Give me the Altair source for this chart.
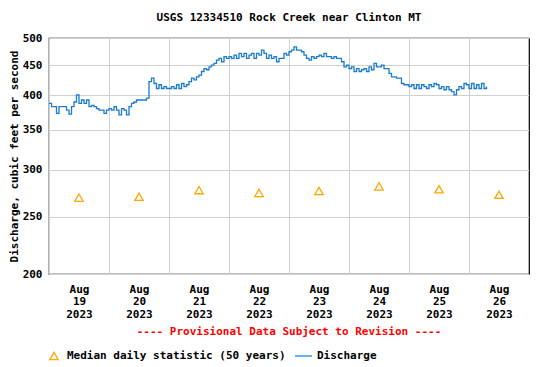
import altair as alt
import pandas as pd

# ---- texts ----
title_text = "USGS 12334510 Rock Creek near Clinton MT"
y_title = "Discharge, cubic feet per second"
provisional_text = "---- Provisional Data Subject to Revision ----"
legend_labels = ["Median daily statistic (50 years)", "Discharge"]

# ---- discharge, hourly readings from Aug 19 00:00 ----
discharge_start = "2023-08-19 00:00"
discharge_aug19 = [388, 383, 383, 373, 383, 383, 383, 378, 372, 383, 390, 401,
                   388, 393, 388, 393, 383, 385, 383, 380, 378, 378, 373, 378]
discharge_aug20 = [380, 378, 383, 378, 371, 380, 378, 371, 383, 388, 390, 393,
                   393, 393, 393, 396, 422, 428, 419, 411, 417, 411, 414, 411]
discharge_aug21 = [411, 414, 411, 417, 411, 419, 414, 417, 422, 428, 425, 430,
                   433, 439, 444, 442, 447, 450, 453, 459, 462, 456, 465, 462]
discharge_aug22 = [465, 462, 468, 462, 471, 465, 471, 462, 468, 471, 462, 471,
                   468, 477, 471, 462, 468, 462, 465, 456, 462, 462, 471, 468]
discharge_aug23 = [474, 477, 483, 477, 477, 474, 468, 462, 459, 465, 462, 465,
                   468, 465, 471, 465, 465, 462, 465, 462, 462, 456, 447, 450]
discharge_aug24 = [444, 447, 439, 444, 439, 442, 444, 439, 447, 442, 453, 447,
                   447, 450, 444, 444, 436, 430, 430, 428, 428, 419, 417, 417]
discharge_aug25 = [414, 417, 411, 417, 411, 417, 414, 411, 417, 414, 419, 417,
                   411, 414, 409, 414, 409, 406, 401, 409, 414, 411, 419, 417]
discharge_aug26 = [411, 419, 411, 417, 411, 419, 411, 414]

# ---- median daily statistic (50 years), at noon of each day ----
median_days = ["2023-08-19", "2023-08-20", "2023-08-21", "2023-08-22",
               "2023-08-23", "2023-08-24", "2023-08-25", "2023-08-26"]
median_values = [269, 270, 277, 274, 276, 281, 278, 272]

# ---- axes ----
y_ticks = [200, 250, 300, 350, 400, 450, 500]
x_tick_days = median_days
x_domain = ["2023-08-19", "2023-08-27"]

FONT = "DejaVu Sans Mono"
BLUE = "#1a7bd0"
ORANGE = "#ffa500"

discharge_values = (discharge_aug19 + discharge_aug20 + discharge_aug21 + discharge_aug22
                    + discharge_aug23 + discharge_aug24 + discharge_aug25 + discharge_aug26)
times = pd.date_range(discharge_start, periods=len(discharge_values), freq="h")
df_q = pd.DataFrame({
    "time": [t.strftime("%Y-%m-%dT%H:%M:%SZ") for t in times],
    "q": discharge_values,
})
df_med = pd.DataFrame({
    "time": [d + "T12:00:00Z" for d in median_days],
    "q": median_values,
})


def utc_dt(s):
    y, m, d = (int(p) for p in s.split("-"))
    return alt.DateTime(year=y, month=m, date=d, utc=True)


x_scale = alt.Scale(type="utc", domain=[utc_dt(x_domain[0]), utc_dt(x_domain[1])])
y_scale = alt.Scale(type="log", domain=[y_ticks[0], y_ticks[-1]], nice=False)

x_axis = alt.Axis(
    values=[utc_dt(d) for d in x_tick_days],
    labelExpr="[utcFormat(datum.value, '%b'), utcFormat(datum.value, '%d'), utcFormat(datum.value, '%Y')]",
    labelOffset=30, labelPadding=9, labelLineHeight=12.5,
    labelBound=False, labelOverlap=False, labelFlush=False,
    ticks=False, domain=False, title=None,
)
y_axis = alt.Axis(
    values=y_ticks, format="d", ticks=False, domain=False,
    labelPadding=7, title=y_title, titlePadding=3,
)

line = alt.Chart(df_q).mark_line(color=BLUE, strokeWidth=1.3, interpolate="step-after").encode(
    x=alt.X("time:T", scale=x_scale, axis=x_axis),
    y=alt.Y("q:Q", scale=y_scale, axis=y_axis),
)

med = alt.Chart(df_med).mark_point(
    shape="triangle-up", filled=False, color=ORANGE, size=70, strokeWidth=1.3, opacity=1
).encode(
    x=alt.X("time:T", scale=x_scale),
    y=alt.Y("q:Q", scale=y_scale),
)

one = pd.DataFrame({"a": [0]})

prov = alt.Chart(pd.DataFrame({"t": [provisional_text]})).mark_text(
    font=FONT, fontSize=11, fontWeight="bold", color="#ff0000", align="center", baseline="middle"
).encode(text="t:N", x=alt.value(240), y=alt.value(294))

leg_tri = alt.Chart(one).mark_point(
    shape="triangle-up", filled=False, color=ORANGE, size=70, strokeWidth=1.3, opacity=1
).encode(x=alt.value(5), y=alt.value(318))

leg_txt1 = alt.Chart(pd.DataFrame({"t": [legend_labels[0]]})).mark_text(
    font=FONT, fontSize=11, fontWeight="bold", color="#000", align="left", baseline="middle"
).encode(text="t:N", x=alt.value(18), y=alt.value(318))

leg_line = alt.Chart(one).mark_rule(color="#6cb0e4", strokeWidth=2).encode(
    x=alt.value(246), x2=alt.value(263), y=alt.value(318)
)

leg_txt2 = alt.Chart(pd.DataFrame({"t": [legend_labels[1]]})).mark_text(
    font=FONT, fontSize=11, fontWeight="bold", color="#000", align="left", baseline="middle"
).encode(text="t:N", x=alt.value(268), y=alt.value(318))

chart = alt.layer(line, med, prov, leg_tri, leg_txt1, leg_line, leg_txt2).properties(
    width=480, height=236,
    title=alt.TitleParams(title_text, font=FONT, fontSize=11, fontWeight="bold",
                          anchor="middle", offset=9, color="#000"),
    autosize=alt.AutoSizeParams(type="none"),
    padding={"left": 41, "top": 30, "right": 10, "bottom": 100},
).configure_axis(
    labelFont=FONT, labelFontSize=11, labelFontWeight="bold", labelColor="#000",
    titleFont=FONT, titleFontSize=11, titleFontWeight="bold", titleColor="#000",
    gridColor="#d0d0d0", gridWidth=1, gridOpacity=1,
).configure_view(stroke="#000", strokeWidth=1.2)

chart.save("out.html", embed_options={"renderer": "svg", "actions": False})
